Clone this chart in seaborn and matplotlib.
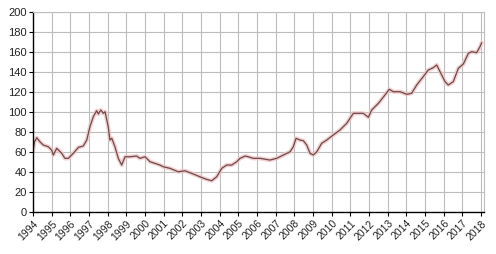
import matplotlib
matplotlib.use("Agg")
import matplotlib.pyplot as plt
import seaborn as sns
import pandas as pd

years = [1994.00, 1994.08, 1994.20, 1994.37, 1994.55, 1994.82, 1995.00, 1995.09, 1995.27,
         1995.54, 1995.71, 1995.89, 1996.16, 1996.43, 1996.69, 1996.88, 1997.05, 1997.23,
         1997.41, 1997.50, 1997.63, 1997.77, 1997.86, 1998.03, 1998.12, 1998.22, 1998.39,
         1998.57, 1998.75, 1998.93, 1999.20, 1999.55, 1999.73, 2000.00, 2000.27, 2000.53,
         2000.80, 2000.98, 2001.34, 2001.78, 2002.14, 2002.50, 2002.94, 2003.30, 2003.57,
         2003.84, 2004.11, 2004.37, 2004.64, 2004.91, 2005.09, 2005.36, 2005.53, 2005.80,
         2006.16, 2006.69, 2007.05, 2007.41, 2007.77, 2007.94, 2008.09, 2008.30, 2008.48,
         2008.66, 2008.84, 2009.01, 2009.20, 2009.46, 2009.73, 2010.08, 2010.44, 2010.80,
         2011.16, 2011.69, 2011.96, 2012.14, 2012.50, 2012.85, 2013.08, 2013.30, 2013.66,
         2014.02, 2014.28, 2014.55, 2014.90, 2015.17, 2015.44, 2015.62, 2015.80, 2016.07,
         2016.24, 2016.51, 2016.78, 2017.05, 2017.32, 2017.50, 2017.76, 2017.94, 2018.03]
values = [61, 70, 74.3, 70.3, 67, 65.3, 62, 57, 63.7,
          58.7, 53.7, 53.7, 58.7, 64.7, 66, 72, 85.3, 95.3,
          101.3, 98, 102, 98.7, 100.3, 85.3, 72, 73.7, 65.3,
          53.7, 47, 55.3, 55.3, 56, 53.7, 55.3, 50.3, 48.7,
          47, 45.3, 43.7, 40.3, 41.3, 38.7, 35.3, 32.7, 31.3,
          35.3, 43.7, 47, 47, 50.3, 53.7, 56, 55.3, 53.7,
          53.7, 52, 53.7, 57, 60.3, 65.3, 73.7, 72, 71.3,
          67, 58.7, 57, 60.3, 68.7, 72, 77, 82, 88.7,
          98.7, 98.7, 94.7, 102, 108.7, 117, 122.7, 120.3, 120.3,
          117.7, 118.7, 127, 135.3, 142, 144.3, 147, 140.3, 130.3,
          127, 130.3, 143.7, 148, 158.7, 160.3, 159.3, 165.3, 169.3]
tick_years = list(range(1994, 2019))
tick_labels = [str(y) for y in tick_years]
y_ticks = list(range(0, 201, 20))

df = pd.DataFrame({"year": years, "value": values})

sns.set_theme(style="white")
plt.rcParams['font.family'] = ['Liberation Sans', 'DejaVu Sans']

fig = plt.figure(figsize=(4.96, 2.54), dpi=100)
ax = fig.add_axes([0.0665, 0.165, 0.9095, 0.788])

sns.lineplot(data=df, x="year", y="value", ax=ax, color="#f2c4c4", linewidth=3.0, alpha=0.8)
sns.lineplot(data=df, x="year", y="value", ax=ax, color="#6a4a4c", linewidth=0.9)

ax.set_xlim(1994, 2018.16)
ax.set_ylim(0, 200)
ax.set_xticks(tick_years)
ax.set_xticklabels(tick_labels, rotation=45, ha="right", rotation_mode="anchor", fontsize=7.5)
ax.set_yticks(y_ticks)
ax.set_yticklabels([str(v) for v in y_ticks], fontsize=8)
ax.grid(True, color="#bdbdbd", linewidth=0.8)
ax.set_axisbelow(True)
ax.set_xlabel("")
ax.set_ylabel("")
for s in ["top", "right"]:
    ax.spines[s].set_color("#bdbdbd")
    ax.spines[s].set_linewidth(0.8)
for s in ["left", "bottom"]:
    ax.spines[s].set_color("black")
    ax.spines[s].set_linewidth(1.0)
ax.tick_params(axis="both", which="major", length=3, width=0.8, color="black",
               bottom=True, left=True, pad=1.5, labelcolor="#222222")

fig.savefig("out.png", dpi=100, facecolor="white")
